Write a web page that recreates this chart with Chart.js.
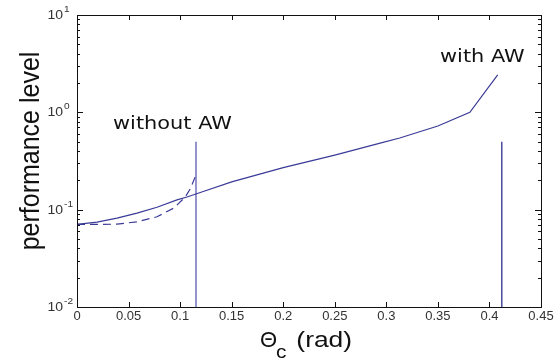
<!DOCTYPE html>
<html><head><meta charset="utf-8">
<script src="https://cdn.jsdelivr.net/npm/chart.js@4/dist/chart.umd.min.js"></script>
<style>html,body{margin:0;padding:0;background:#fff;}canvas{display:block}</style>
</head><body>
<canvas id="c" width="559" height="360"></canvas>
<script>
// ---- data ----
const xWithAW = [0, 0.0194, 0.0388, 0.0582, 0.0776, 0.097, 0.1067, 0.121, 0.15, 0.2, 0.25, 0.294, 0.313, 0.35, 0.381, 0.408];
const yWithAW = [0.0706, 0.0746, 0.082, 0.092, 0.106, 0.126, 0.135, 0.152, 0.193, 0.27, 0.364, 0.483, 0.545, 0.724, 1.0, 2.42];
const xWithoutAW = [0, 0.02, 0.0388, 0.0582, 0.0776, 0.094, 0.105, 0.110, 0.1145];
const yWithoutAW = [0.0705, 0.0705, 0.071, 0.075, 0.0845, 0.104, 0.135, 0.165, 0.216];
const xLimitWithout = 0.1154;
const xLimitWith = 0.412;
const yLimitRange = [0.01, 0.5];
const xTickLabels = ['0', '0.05', '0.1', '0.15', '0.2', '0.25', '0.3', '0.35', '0.4', '0.45'];
const yTickValues = [0.01, 0.1, 1, 10];
const yTickExponents = ['-2', '-1', '0', '1'];
const labelWithout = 'without AW';
const labelWith = 'with AW';
const xTitleSymbol = '\u0398';
const xTitleSub = 'c';
const xTitleRest = ' (rad)';
const yTitle = 'performance level';

const pts = (xs, ys) => xs.map((x, i) => ({x: x, y: ys[i]}));
const lineCol = '#3a3a98';

const decor = {
  id: 'decor',
  afterDraw(chart) {
    const ctx = chart.ctx, a = chart.chartArea;
    const xs = chart.scales.x, ys = chart.scales.y;
    ctx.save();
    ctx.strokeStyle = '#111';
    ctx.lineWidth = 1;
    ctx.strokeRect(Math.round(a.left) + 0.5, Math.round(a.top) + 0.5, Math.round(a.right - a.left), Math.round(a.bottom - a.top));
    ctx.beginPath();
    for (let i = 1; i < xTickLabels.length - 1; i++) {
      const px = Math.round(xs.getPixelForValue(i * 0.05)) + 0.5;
      ctx.moveTo(px, a.bottom); ctx.lineTo(px, a.bottom - 5);
      ctx.moveTo(px, a.top); ctx.lineTo(px, a.top + 5);
    }
    for (let d = 0; d < 3; d++) {
      const base = yTickValues[d];
      for (let m = 1; m <= 9; m++) {
        const v = base * m;
        const py = Math.round(ys.getPixelForValue(v)) + 0.5;
        const len = (m === 1) ? 6 : 3;
        ctx.moveTo(a.left, py); ctx.lineTo(a.left + len, py);
        ctx.moveTo(a.right, py); ctx.lineTo(a.right - len, py);
      }
    }
    ctx.stroke();
    ctx.fillStyle = '#333';
    yTickValues.forEach((v, i) => {
      const py = ys.getPixelForValue(v);
      ctx.save();
      ctx.translate(63, py + 4);
      ctx.scale(1.12, 1);
      ctx.font = '12.5px "Liberation Sans", Arial, sans-serif';
      ctx.textAlign = 'right';
      ctx.textBaseline = 'alphabetic';
      ctx.fillText('10', 0, 0);
      ctx.font = '9px "Liberation Sans", Arial, sans-serif';
      ctx.textAlign = 'left';
      ctx.fillText(yTickExponents[i], 1, -7);
      ctx.restore();
    });
    ctx.fillStyle = '#111';
    ctx.font = '18px "DejaVu Sans", sans-serif';
    ctx.textBaseline = 'alphabetic';
    ctx.textAlign = 'left';
    ctx.save(); ctx.translate(113, 129); ctx.scale(1.16, 1); ctx.fillText(labelWithout, 0, 0); ctx.restore();
    ctx.save(); ctx.translate(440, 62); ctx.scale(1.16, 1); ctx.fillText(labelWith, 0, 0); ctx.restore();
    ctx.font = '22px "Liberation Sans", Arial, sans-serif';
    ctx.save(); ctx.translate(260, 347); ctx.scale(1.0, 1); ctx.fillText(xTitleSymbol, 0, 0); ctx.restore();
    ctx.font = '19px "Liberation Sans", Arial, sans-serif';
    ctx.save(); ctx.translate(276, 358); ctx.scale(1.1, 1); ctx.fillText(xTitleSub, 0, 0); ctx.restore();
    ctx.font = '22px "Liberation Sans", Arial, sans-serif';
    ctx.save(); ctx.translate(289, 347); ctx.scale(1.2, 1); ctx.fillText(xTitleRest, 0, 0); ctx.restore();
    ctx.save();
    ctx.translate(31, 151);
    ctx.rotate(-Math.PI / 2);
    ctx.scale(1, 1.1);
    ctx.font = '25px "Liberation Sans", Arial, sans-serif';
    ctx.textAlign = 'center';
    ctx.textBaseline = 'middle';
    ctx.fillText(yTitle, 0, 0);
    ctx.restore();
    ctx.restore();
  }
};

new Chart(document.getElementById('c'), {
  type: 'line',
  data: {
    datasets: [
      {label: 'with AW', data: pts(xWithAW, yWithAW), borderColor: lineCol, borderWidth: 1.2, pointRadius: 0, tension: 0, fill: false},
      {label: 'without AW', data: pts(xWithoutAW, yWithoutAW), borderColor: lineCol, borderWidth: 1.2, borderDash: [8, 5], pointRadius: 0, tension: 0, fill: false},
      {label: 'limit without', data: pts([xLimitWithout, xLimitWithout], yLimitRange), borderColor: '#5c5cb0', borderWidth: 1.3, pointRadius: 0, fill: false},
      {label: 'limit with', data: pts([xLimitWith, xLimitWith], yLimitRange), borderColor: '#1e1e84', borderWidth: 1.2, pointRadius: 0, fill: false}
    ]
  },
  options: {
    responsive: false,
    devicePixelRatio: 1,
    animation: false,
    layout: {padding: {top: 15, right: 18, left: 0, bottom: 0}},
    plugins: {legend: {display: false}, tooltip: {enabled: false}},
    scales: {
      x: {
        type: 'linear', min: 0, max: 0.45,
        grid: {display: false, drawTicks: false},
        border: {display: false},
        ticks: {
          stepSize: 0.05, padding: 2, color: '#333', maxRotation: 0, autoSkip: false,
          font: {family: '"Liberation Sans", Arial, sans-serif', size: 13},
          callback: (v, i) => xTickLabels[i]
        },
        afterFit: (s) => { s.height = 53; }
      },
      y: {
        type: 'logarithmic', min: 0.01, max: 10,
        grid: {display: false, drawTicks: false},
        border: {display: false},
        ticks: {display: false},
        afterFit: (s) => { s.width = 77; }
      }
    }
  },
  plugins: [decor]
});
</script>
</body></html>
